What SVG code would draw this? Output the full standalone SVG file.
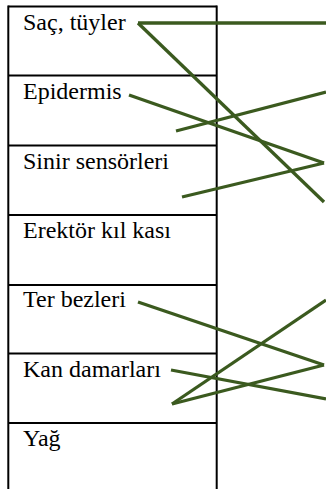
<svg xmlns="http://www.w3.org/2000/svg" width="326" height="489" viewBox="0 0 326 489">
<style>
.cell{fill:none;stroke:#000;stroke-width:2}
.conn{stroke:#3b5a1f;stroke-width:3.3;fill:none;stroke-linecap:butt}
text{font-family:"Liberation Serif","Times New Roman",serif;font-size:24px;fill:#000}
</style>
<rect width="326" height="489" fill="#fff"/>
<g id="table">
<line class="cell" x1="8.3" y1="6.5" x2="216.7" y2="6.5"/>
<line class="cell" x1="8.3" y1="5.5" x2="8.3" y2="489"/>
<line class="cell" x1="216.7" y1="5.5" x2="216.7" y2="489"/>
</g>
<g id="row-sac">
<line class="cell" x1="8.3" y1="75.5" x2="216.7" y2="75.5"/>
<text x="23" y="29.5">Saç, tüyler</text>
</g>
<g id="row-epidermis">
<line class="cell" x1="8.3" y1="145.5" x2="216.7" y2="145.5"/>
<text x="23" y="99">Epidermis</text>
</g>
<g id="row-sinir">
<line class="cell" x1="8.3" y1="215" x2="216.7" y2="215"/>
<text x="23" y="168.5">Sinir sensörleri</text>
</g>
<g id="row-erektor">
<line class="cell" x1="8.3" y1="285" x2="216.7" y2="285"/>
<text x="23" y="238">Erektör kıl kası</text>
</g>
<g id="row-ter">
<line class="cell" x1="8.3" y1="353.5" x2="216.7" y2="353.5"/>
<text x="23" y="307">Ter bezleri</text>
</g>
<g id="row-kan">
<line class="cell" x1="8.3" y1="423" x2="216.7" y2="423"/>
<text x="23" y="376.5">Kan damarları</text>
</g>
<g id="row-yag">
<text x="23" y="445.5">Yağ</text>
</g>
<g id="connectors">
<line class="conn" x1="138" y1="23" x2="326" y2="23"/>
<line class="conn" x1="138" y1="23" x2="324" y2="202"/>
<line class="conn" x1="129" y1="95" x2="324" y2="163"/>
<line class="conn" x1="176" y1="131" x2="326" y2="92"/>
<line class="conn" x1="182" y1="197" x2="324" y2="163"/>
<line class="conn" x1="138" y1="302" x2="324" y2="365"/>
<line class="conn" x1="171" y1="370" x2="326" y2="399"/>
<line class="conn" x1="172" y1="404" x2="324" y2="365"/>
<line class="conn" x1="172" y1="404" x2="326" y2="300"/>
</g>
</svg>
